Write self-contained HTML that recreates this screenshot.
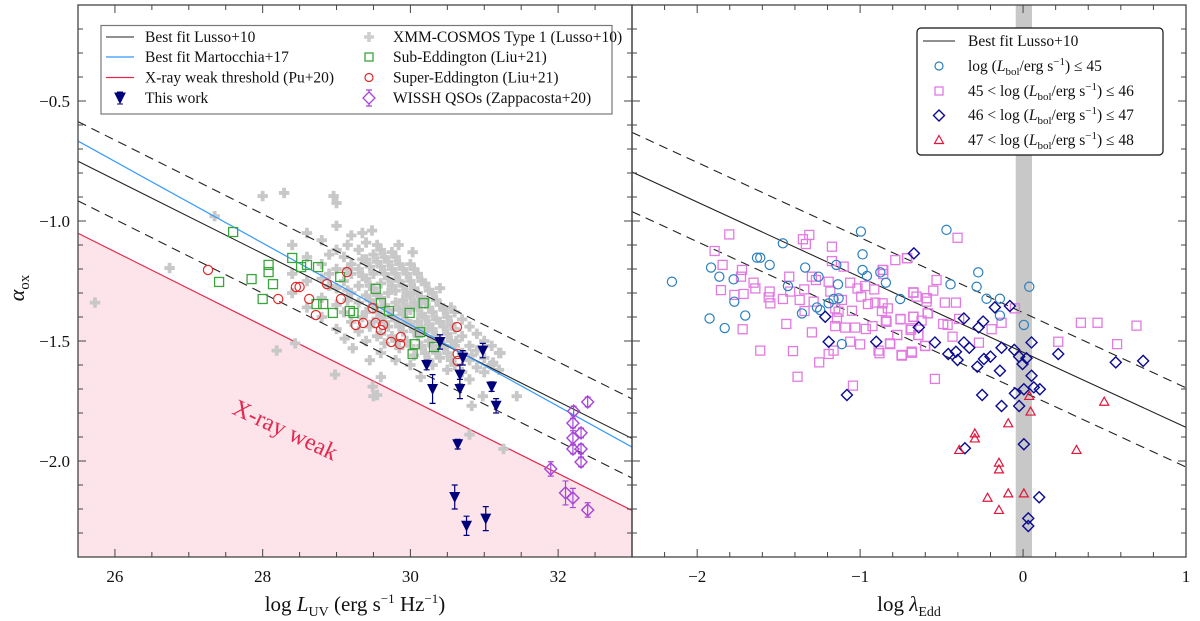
<!DOCTYPE html>
<html><head><meta charset="utf-8"><style>
body{margin:0;background:#fff;position:relative;width:1200px;height:621px;overflow:hidden;}
svg{display:block;font-family:"Liberation Serif","DejaVu Serif",serif;}
</style></head><body>
<svg id="chart" width="1200" height="621" viewBox="0 0 1200 621" xmlns="http://www.w3.org/2000/svg">
<g id="L"></g>
<g id="R"></g>
</svg>
<script>
// ---------- data: left panel ----------
const grayL = [25.73,26.74,27.35,28.0,28.29,28.96,29.0,28.19,28.44,28.98,29.49,29.55,29.48,29.84,30.03,29.11,29.22,29.45,29.6,29.5,30.14,30.83,30.8,31.26,31.44,31.22,31.12,30.98,30.83,30.62,
28.4,28.4,28.4,28.6,28.6,28.6,28.6,28.8,28.8,28.8,28.8,28.8,29.0,29.0,29.0,29.0,29.0,29.0,29.1,29.1,29.1,29.2,29.2,29.2,29.2,29.2,29.3,29.3,29.3,29.3,29.3,29.4,29.4,29.4,29.4,29.4,29.4,29.5,29.5,29.5,29.5,29.5,29.6,29.6,29.6,29.6,29.6,29.6,29.6,29.7,29.7,29.7,29.7,29.7,29.8,29.8,29.8,29.8,29.8,29.8,29.8,29.9,29.9,29.9,29.9,29.9,30.0,30.0,30.0,30.0,30.0,30.0,30.0,30.1,30.1,30.1,30.1,30.1,30.2,30.2,30.2,30.2,30.2,30.3,30.3,30.3,30.3,30.3,30.4,30.4,30.4,30.4,30.4,30.5,30.5,30.5,30.5,30.6,30.6,30.6,30.6,30.8,30.8,30.8,30.8,31.0,31.0,31.0,31.2,31.2,
28.9,28.9,28.9,29.15,29.15,29.15,29.15,29.35,29.35,29.35,29.35,29.45,29.45,29.45,29.45,29.55,29.55,29.55,29.55,29.55,29.65,29.65,29.65,29.65,29.65,29.75,29.75,29.75,29.75,29.75,29.85,29.85,29.85,29.85,29.85,29.95,29.95,29.95,29.95,29.95,30.05,30.05,30.05,30.05,30.05,30.15,30.15,30.15,30.15,30.15,30.25,30.25,30.25,30.25,30.25,30.35,30.35,30.35,30.35,30.45,30.45,30.45,30.55,30.55,30.55,30.55,30.7,30.7,30.7,30.7,30.9,30.9,30.9,31.1,31.1];
const grayA = [-1.34,-1.196,-0.98,-0.896,-0.883,-0.896,-0.925,-1.54,-1.51,-1.64,-1.69,-1.725,-1.04,-1.10,-1.13,-1.49,-1.53,-1.58,-1.65,-1.73,-1.65,-1.77,-1.89,-1.95,-1.73,-1.55,-1.59,-1.73,-1.56,-1.50,
-1.10,-1.22,-1.30,-1.05,-1.15,-1.25,-1.36,-1.08,-1.18,-1.24,-1.32,-1.40,-1.02,-1.12,-1.20,-1.28,-1.35,-1.45,-1.15,-1.25,-1.38,-1.06,-1.18,-1.22,-1.30,-1.42,-1.12,-1.20,-1.27,-1.34,-1.46,-1.09,-1.16,-1.24,-1.31,-1.38,-1.50,-1.14,-1.22,-1.28,-1.35,-1.42,-1.12,-1.19,-1.26,-1.32,-1.40,-1.47,-1.55,-1.17,-1.24,-1.30,-1.37,-1.44,-1.15,-1.22,-1.29,-1.34,-1.41,-1.50,-1.58,-1.20,-1.27,-1.33,-1.39,-1.46,-1.18,-1.25,-1.31,-1.37,-1.43,-1.52,-1.60,-1.22,-1.30,-1.36,-1.42,-1.48,-1.26,-1.33,-1.40,-1.46,-1.55,-1.30,-1.38,-1.45,-1.52,-1.60,-1.28,-1.35,-1.42,-1.50,-1.57,-1.40,-1.47,-1.55,-1.62,-1.38,-1.45,-1.52,-1.60,-1.44,-1.52,-1.58,-1.66,-1.50,-1.57,-1.63,-1.55,-1.62,
-1.14,-1.27,-1.22,-1.10,-1.20,-1.33,-1.29,-1.05,-1.16,-1.23,-1.40,-1.19,-1.27,-1.33,-1.44,-1.10,-1.17,-1.31,-1.38,-1.48,-1.15,-1.22,-1.35,-1.42,-1.51,-1.13,-1.20,-1.27,-1.40,-1.48,-1.18,-1.25,-1.37,-1.44,-1.53,-1.22,-1.30,-1.36,-1.42,-1.50,-1.20,-1.28,-1.34,-1.46,-1.56,-1.25,-1.33,-1.39,-1.45,-1.52,-1.29,-1.36,-1.43,-1.50,-1.58,-1.33,-1.41,-1.48,-1.55,-1.37,-1.44,-1.52,-1.36,-1.43,-1.50,-1.58,-1.41,-1.48,-1.55,-1.63,-1.47,-1.54,-1.61,-1.52,-1.60];
const subL = [27.60,28.40,28.60,28.52,28.75,28.08,28.08,27.85,27.41,28.14,28.00,29.05,28.73,28.82,28.95,29.18,29.23,29.53,29.60,29.71,29.99,30.18,30.13,30.06,30.32,30.03];
const subA = [-1.046,-1.154,-1.183,-1.192,-1.192,-1.183,-1.213,-1.242,-1.254,-1.263,-1.325,-1.233,-1.346,-1.346,-1.383,-1.375,-1.383,-1.283,-1.342,-1.375,-1.383,-1.342,-1.463,-1.513,-1.525,-1.554];
const supL = [27.26,28.21,28.45,28.50,28.63,28.87,28.72,29.06,29.14,29.26,29.36,29.49,29.53,29.63,29.60,29.87,29.74,29.86,30.63,30.64,30.64];
const supA = [-1.204,-1.325,-1.275,-1.275,-1.325,-1.263,-1.392,-1.325,-1.213,-1.433,-1.425,-1.363,-1.425,-1.433,-1.454,-1.483,-1.504,-1.513,-1.442,-1.554,-1.583];
const twL = [30.40,30.98,30.22,30.71,30.67,30.30,30.67,31.10,31.16,30.64,30.60,30.76,31.02];
const twA = [-1.504,-1.54,-1.60,-1.57,-1.64,-1.70,-1.70,-1.69,-1.77,-1.93,-2.15,-2.27,-2.24];
const twE = [0.03,0.03,0.02,0.03,0.04,0.06,0.04,0.02,0.03,0.02,0.05,0.04,0.05];
const wiL = [32.40,32.21,32.20,32.31,32.20,32.20,32.31,32.31,31.90,32.10,32.20,32.40];
const wiA = [-1.754,-1.792,-1.842,-1.883,-1.904,-1.95,-1.95,-2.004,-2.033,-2.133,-2.154,-2.204];
const wiE = [0.02,0.02,0.02,0.02,0.03,0.02,0.02,0.02,0.03,0.05,0.04,0.03];
const xTicksL = [26,28,30,32];
const yTicks = [-0.5,-1.0,-1.5,-2.0];
// ---------- data: right panel ----------
const bluX = [-2.155,-1.915,-1.864,-1.776,-1.772,-1.924,-1.831,-1.705,-1.633,-1.613,-1.555,-1.474,-1.443,-1.337,-1.357,-1.255,-1.265,-1.245,-1.193,-1.163,-1.132,-1.136,-1.146,-1.112,-0.995,-0.985,-0.985,-0.958,-0.876,-0.842,-0.754,-0.47,-0.275,-0.445,-0.285,-0.224,-0.142,-0.142,0.038,0.005];
const bluA = [-1.253,-1.194,-1.232,-1.243,-1.336,-1.406,-1.446,-1.394,-1.153,-1.153,-1.183,-1.093,-1.271,-1.194,-1.385,-1.232,-1.36,-1.371,-1.343,-1.325,-1.322,-1.264,-1.183,-1.513,-1.044,-1.139,-1.204,-1.229,-1.214,-1.257,-1.325,-1.037,-1.214,-1.264,-1.274,-1.324,-1.324,-1.394,-1.274,-1.433];
const pnkX = [-1.803,-1.893,-1.844,-1.725,-1.731,-1.654,-1.643,-1.854,-1.772,-1.715,-1.721,-1.613,-1.555,-1.561,-1.551,-1.474,-1.453,-1.412,-1.384,-1.435,-1.429,-1.371,-1.343,-1.341,-1.351,-1.312,-1.333,-1.296,-1.271,-1.285,-1.296,-1.251,-1.173,-1.173,-1.193,-1.183,-1.153,-1.142,-1.153,-1.132,-1.163,-1.193,-1.101,-1.112,-1.091,-1.061,-1.05,-1.061,-1.044,-1.016,-0.993,-1.03,-1.0,-0.969,-0.952,-0.965,-0.924,-0.913,-0.907,-0.887,-0.881,-0.862,-0.862,-0.866,-0.842,-0.83,-0.815,-0.784,-0.772,-0.752,-0.744,-0.713,-0.672,-0.672,-0.686,-0.682,-0.642,-0.6,-0.59,-0.584,
-0.402,-0.711,-0.858,-0.858,-0.531,-0.551,-0.592,-0.592,-0.654,-0.674,-0.48,-0.412,-0.623,-0.586,-0.674,-0.752,-0.838,-0.49,-0.463,-0.392,-0.69,-0.772,-0.643,-0.602,-0.684,-0.746,-0.817,-0.433,-0.271,-0.541,-0.193,-0.132,-0.05,0.216,0.355,0.457,0.577,0.696];
const pnkA = [-1.056,-1.125,-1.183,-1.204,-1.232,-1.257,-1.281,-1.288,-1.308,-1.304,-1.451,-1.54,-1.294,-1.318,-1.343,-1.325,-1.429,-1.542,-1.649,-1.232,-1.294,-1.329,-1.285,-1.375,-1.076,-1.058,-1.096,-1.232,-1.246,-1.336,-1.464,-1.589,-1.107,-1.167,-1.253,-1.294,-1.364,-1.406,-1.438,-1.378,-1.54,-1.554,-1.19,-1.329,-1.444,-1.257,-1.374,-1.503,-1.686,-1.281,-1.315,-1.444,-1.514,-1.271,-1.346,-1.45,-1.438,-1.285,-1.34,-1.54,-1.551,-1.204,-1.343,-1.375,-1.415,-1.364,-1.513,-1.163,-1.475,-1.408,-1.561,-1.155,-1.299,-1.399,-1.447,-1.549,-1.475,-1.52,-1.322,-1.385,
-1.07,-1.155,-1.204,-1.221,-1.246,-1.29,-1.322,-1.336,-1.315,-1.297,-1.34,-1.34,-1.415,-1.385,-1.399,-1.41,-1.42,-1.429,-1.433,-1.408,-1.454,-1.475,-1.475,-1.521,-1.544,-1.558,-1.51,-1.482,-1.507,-1.658,-1.451,-1.424,-1.364,-1.503,-1.424,-1.424,-1.513,-1.436];
const navX = [-1.214,-1.193,-1.081,-0.901,-0.67,-0.64,-0.541,-0.459,-0.412,-0.402,-0.363,-0.363,-0.33,-0.273,-0.245,-0.281,-0.24,-0.2,-0.173,-0.081,-0.132,-0.142,-0.054,-0.024,0.021,-0.003,0.052,0.052,0.005,0.066,0.103,-0.05,-0.251,-0.132,-0.024,0.216,0.569,0.737,-0.357,0.005,0.099,0.032,0.032];
const navA = [-1.399,-1.503,-1.725,-1.503,-1.135,-1.443,-1.506,-1.554,-1.545,-1.579,-1.406,-1.506,-1.528,-1.443,-1.419,-1.607,-1.575,-1.565,-1.36,-1.354,-1.528,-1.624,-1.537,-1.565,-1.572,-1.596,-1.506,-1.645,-1.701,-1.693,-1.701,-1.718,-1.725,-1.771,-1.771,-1.554,-1.589,-1.583,-1.947,-1.93,-2.151,-2.239,-2.271];
const triX = [0.038,0.046,-0.091,-0.296,-0.296,-0.392,-0.148,-0.148,-0.091,0.005,-0.218,-0.148,0.328,0.498];
const triA = [-1.729,-1.794,-1.843,-1.885,-1.906,-1.954,-2.007,-2.035,-2.135,-2.135,-2.153,-2.204,-1.954,-1.753];
const xTicksR = [-2,-1,0,1];
const xTickLabR = ["\u22122","\u22121","0","1"];

// ---------- scales ----------
const X0=78, X1=632, X2=1186, YT=5, YB=557;
const Lx = v => X0 + (v-25.5)*(X1-X0)/7.5;
const Rx = v => X1 + (v+2.4)*(X2-X1)/3.4;
const Y  = v => YT + (-0.1-v)*(YB-YT)/2.3;
const NS="http://www.w3.org/2000/svg";
function mk(parent,tag,attrs){const e=document.createElementNS(NS,tag);for(const k in attrs)e.setAttribute(k,attrs[k]);parent.appendChild(e);return e;}
const gL=document.getElementById('L'), gR=document.getElementById('R');

const defs=mk(document.getElementById('chart'),'defs',{});
const c1=mk(defs,'clipPath',{id:'cl'});mk(c1,'rect',{x:X0,y:YT,width:X1-X0,height:YB-YT});
const c2=mk(defs,'clipPath',{id:'cr'});mk(c2,'rect',{x:X1,y:YT,width:X2-X1,height:YB-YT});
const pL=mk(gL,'g',{'clip-path':'url(#cl)'});
const pR=mk(gR,'g',{'clip-path':'url(#cr)'});

const lusso = l => -0.154*l + 3.176;
const mart  = l => -0.170*l + 3.668;
const weak  = l => lusso(l) - 0.3;
const OFF = 0.165;
let e;
e=mk(pL,'polygon',{points:`${Lx(25.5)},${Y(weak(25.5))} ${Lx(33)},${Y(weak(33))} ${Lx(33)},${YB} ${Lx(25.5)},${YB}`,fill:'#fce4ea'});


function line(par,f,sc,a,b,st,w,dash,name){const el=mk(par,'line',{x1:sc(a),y1:Y(f(a)),x2:sc(b),y2:Y(f(b)),stroke:st,'stroke-width':w});if(dash)el.setAttribute('stroke-dasharray',dash);return el;}
line(pL,weak,Lx,25.5,33,'#e3284f',1.2,null,'x-ray-weak-threshold-line');

const txt=mk(pL,'text',{x:0,y:0,'font-size':24,fill:'#e3284f','text-anchor':'middle',transform:`translate(282,437) rotate(25)`});
txt.textContent='X-ray weak';



function cross(par,cx,cy,name){const g=mk(par,'path',{d:`M${cx-1.9},${cy-5.2}h3.8v3.3h3.3v3.8h-3.3v3.3h-3.8v-3.3h-3.3v-3.8h3.3z`,fill:'#c8c8c8'});return g;}
for(let i=0;i<grayL.length;i++){cross(pL,Lx(grayL[i]),Y(grayA[i]),'xmm-cosmos-point');}

line(pL,lusso,Lx,25.5,33,'#222',1.1,null,'lusso-best-fit-line');
line(pL,l=>lusso(l)+OFF,Lx,25.5,33,'#222',1.1,'9,6','lusso-upper-scatter-line');
line(pL,l=>lusso(l)-OFF,Lx,25.5,33,'#222',1.1,'9,6','lusso-lower-scatter-line');
line(pL,mart,Lx,25.5,33,'#3399ff',1.2,null,'martocchia-best-fit-line');

function sq(par,cx,cy,col,name){const el=mk(par,'rect',{x:cx-4.5,y:cy-4.5,width:9,height:9,fill:'none',stroke:col,'stroke-width':1.3});return el;}
function circ(par,cx,cy,col,name){const el=mk(par,'circle',{cx:cx,cy:cy,r:4.6,fill:'none',stroke:col,'stroke-width':1.2});return el;}
function dia(par,cx,cy,col,s,name){const el=mk(par,'path',{d:`M${cx},${cy-s}L${cx+s},${cy}L${cx},${cy+s}L${cx-s},${cy}Z`,fill:'none',stroke:col,'stroke-width':1.4});return el;}
function tri(par,cx,cy,col,name){const el=mk(par,'path',{d:`M${cx},${cy-4.5}L${cx+4.5},${cy+3.5}L${cx-4.5},${cy+3.5}Z`,fill:'none',stroke:col,'stroke-width':1.2});return el;}
function ebar(par,cx,y1,y2,col){const g=mk(par,'path',{d:`M${cx},${y1}V${y2}M${cx-3},${y1}h6M${cx-3},${y2}h6`,stroke:col,'stroke-width':1.2,fill:'none'});}
function dtri(par,cx,cy,name){const el=mk(par,'path',{d:`M${cx-5.5},${cy-5}L${cx+5.5},${cy-5}L${cx},${cy+6}Z`,fill:'#00007a'});return el;}

for(let i=0;i<subL.length;i++) sq(pL,Lx(subL[i]),Y(subA[i]),'#3aa53a','sub-eddington-point');
for(let i=0;i<supL.length;i++) circ(pL,Lx(supL[i]),Y(supA[i]),'#e02a2a','super-eddington-point');
for(let i=0;i<wiL.length;i++){ebar(pL,Lx(wiL[i]),Y(wiA[i]+wiE[i]),Y(wiA[i]-wiE[i]),'#a845d8');dia(pL,Lx(wiL[i]),Y(wiA[i]),'#a845d8',6,'wissh-qso-point');}
for(let i=0;i<twL.length;i++){ebar(pL,Lx(twL[i]),Y(twA[i]+twE[i]),Y(twA[i]-twE[i]),'#00007a');dtri(pL,Lx(twL[i]),Y(twA[i]),'this-work-point');}

const lussoR = x => -0.313*x - 1.547;
e=mk(pR,'rect',{x:Rx(-0.045),y:YT,width:Rx(0.055)-Rx(-0.045),height:YB-YT,fill:'#c8c8c8'});


line(pR,lussoR,Rx,-2.4,1.0,'#222',1.1,null,'lusso-best-fit-line-right');
line(pR,x=>lussoR(x)+OFF,Rx,-2.4,1.0,'#222',1.1,'9,6','upper-scatter-line-right');
line(pR,x=>lussoR(x)-OFF,Rx,-2.4,1.0,'#222',1.1,'9,6','lower-scatter-line-right');
for(let i=0;i<pnkX.length;i++) sq(pR,Rx(pnkX[i]),Y(pnkA[i]),'#e27ae2','lbol-45-46-point');
for(let i=0;i<bluX.length;i++) circ(pR,Rx(bluX[i]),Y(bluA[i]),'#2a7fc0','lbol-le-45-point');
for(let i=0;i<navX.length;i++) dia(pR,Rx(navX[i]),Y(navA[i]),'#0a0a90',5.5,'lbol-46-47-point');
for(let i=0;i<triX.length;i++) tri(pR,Rx(triX[i]),Y(triA[i]),'#e0163c','lbol-47-48-point');

function frame(g,x0,x1,name){const el=mk(g,'rect',{x:x0,y:YT,width:x1-x0,height:YB-YT,fill:'none',stroke:'#444','stroke-width':1.3});}
frame(gL,X0,X1,'left-plot-frame');frame(gR,X1,X2,'right-plot-frame');
function tk(g,x1,y1,x2,y2){mk(g,'line',{x1,y1,x2,y2,stroke:'#444','stroke-width':1});}
for(let v=25.5;v<=33.001;v+=0.5){const x=Lx(v);const L=(Math.abs(v-Math.round(v))<1e-6&&Math.round(v)%2===0)?8:5;tk(gL,x,YB,x,YB-L);tk(gL,x,YT,x,YT+L);}
for(const v of xTicksL){const t=mk(gL,'text',{x:Lx(v),y:YB+25,'font-size':17,'text-anchor':'middle',fill:'#111'});t.textContent=v;}
for(let k=0;k<=17;k++){const v=-2.4+k*0.2;const x=Rx(v);const maj=Math.abs(v-Math.round(v))<1e-6;const L=maj?8:5;tk(gR,x,YB,x,YB-L);tk(gR,x,YT,x,YT+L);}
xTicksR.forEach((v,i)=>{const t=mk(gR,'text',{x:Rx(v),y:YB+25,'font-size':17,'text-anchor':'middle',fill:'#111'});t.textContent=xTickLabR[i];});
for(let k=0;k<=23;k++){const v=-0.1-k*0.1;const y=Y(v);const maj=Math.abs(v*2-Math.round(v*2))<1e-6;const L=maj?8:5;
  tk(gL,X0,y,X0+L,y);tk(gL,X1,y,X1-L,y);tk(gR,X1,y,X1+L,y);tk(gR,X2,y,X2-L,y);}
for(const v of yTicks){const t=mk(gL,'text',{x:X0-8,y:Y(v)+6,'font-size':17,'text-anchor':'end',fill:'#111'});t.textContent='\u2212'+Math.abs(v).toFixed(1);}
</script>
<svg style="position:absolute;left:0;top:0" width="1200" height="621">
<g font-family="Liberation Serif, DejaVu Serif, serif" fill="#111">
<text x="24" y="288" font-size="22" text-anchor="middle" transform="rotate(-90 24 288)"><tspan font-style="italic">α</tspan><tspan font-size="15" dy="5">ox</tspan></text>
<text x="355" y="611" font-size="21" text-anchor="middle">log <tspan font-style="italic">L</tspan><tspan font-size="14" dy="5">UV</tspan><tspan dy="-5"> (erg s</tspan><tspan font-size="13" dy="-8">−1</tspan><tspan dy="8"> Hz</tspan><tspan font-size="13" dy="-8">−1</tspan><tspan dy="8">)</tspan></text>
<text x="909" y="611" font-size="21" text-anchor="middle">log <tspan font-style="italic">λ</tspan><tspan font-size="14" dy="5">Edd</tspan></text>
</g>
<g font-family="Liberation Serif, DejaVu Serif, serif" font-size="15.5" fill="#111">
<rect x="101" y="25.5" width="511" height="88.5" fill="#fff" stroke="#777" stroke-width="1.2"/>
<line x1="106" y1="37" x2="134" y2="37" stroke="#222" stroke-width="1.1"/>
<text x="145" y="42">Best fit Lusso+10</text>
<line x1="106" y1="57" x2="134" y2="57" stroke="#3399ff" stroke-width="1.2"/>
<text x="145" y="62">Best fit Martocchia+17</text>
<line x1="106" y1="77.5" x2="134" y2="77.5" stroke="#e3284f" stroke-width="1.2"/>
<text x="145" y="82.5">X-ray weak threshold (Pu+20)</text>
<path d="M120,92V104M117,92h6M117,104h6M115,93L125,93L120,103Z" fill="#00007a" stroke="#00007a" stroke-width="1.1"/>
<text x="145" y="103">This work</text>
<path d="M367.2,32h3.6v3.2h3.2v3.6h-3.2v3.2h-3.6v-3.2h-3.2v-3.6h3.2z" fill="#cfcfcf"/>
<text x="393" y="42">XMM-COSMOS Type 1 (Lusso+10)</text>
<rect x="365" y="53" width="8" height="8" fill="none" stroke="#3aa53a" stroke-width="1.3"/>
<text x="393" y="62">Sub-Eddington (Liu+21)</text>
<circle cx="369" cy="77.5" r="4" fill="none" stroke="#e02a2a" stroke-width="1.2"/>
<text x="393" y="82.5">Super-Eddington (Liu+21)</text>
<path d="M369,92L375,98L369,104L363,98ZM369,90V92M369,104V106M366,90h6M366,106h6" fill="none" stroke="#a845d8" stroke-width="1.3"/>
<text x="393" y="103">WISSH QSOs (Zappacosta+20)</text>
</g>
<g font-family="Liberation Serif, DejaVu Serif, serif" font-size="15.5" fill="#111">
<rect x="917" y="28" width="246" height="127" rx="4" fill="#fff" stroke="#111" stroke-width="1.2"/>
<line x1="923" y1="41" x2="955" y2="41" stroke="#222" stroke-width="1.1"/>
<text x="968" y="46">Best fit Lusso+10</text>
<circle cx="939" cy="66" r="4" fill="none" stroke="#2a7fc0" stroke-width="1.2"/>
<text x="968" y="71">log (<tspan font-style="italic">L</tspan><tspan font-size="11" dy="4">bol</tspan><tspan dy="-4">/erg s</tspan><tspan font-size="11" dy="-6">−1</tspan><tspan dy="6">) ≤ 45</tspan></text>
<rect x="935" y="87" width="8" height="8" fill="none" stroke="#e27ae2" stroke-width="1.3"/>
<text x="968" y="96">45 &lt; log (<tspan font-style="italic">L</tspan><tspan font-size="11" dy="4">bol</tspan><tspan dy="-4">/erg s</tspan><tspan font-size="11" dy="-6">−1</tspan><tspan dy="6">) ≤ 46</tspan></text>
<path d="M939,110L944.5,115.5L939,121L933.5,115.5Z" fill="none" stroke="#0a0a90" stroke-width="1.4"/>
<text x="968" y="120">46 &lt; log (<tspan font-style="italic">L</tspan><tspan font-size="11" dy="4">bol</tspan><tspan dy="-4">/erg s</tspan><tspan font-size="11" dy="-6">−1</tspan><tspan dy="6">) ≤ 47</tspan></text>
<path d="M939,135.5L943.5,143.5L934.5,143.5Z" fill="none" stroke="#e0163c" stroke-width="1.2"/>
<text x="968" y="145">47 &lt; log (<tspan font-style="italic">L</tspan><tspan font-size="11" dy="4">bol</tspan><tspan dy="-4">/erg s</tspan><tspan font-size="11" dy="-6">−1</tspan><tspan dy="6">) ≤ 48</tspan></text>
</g>
</svg>
</body></html>
